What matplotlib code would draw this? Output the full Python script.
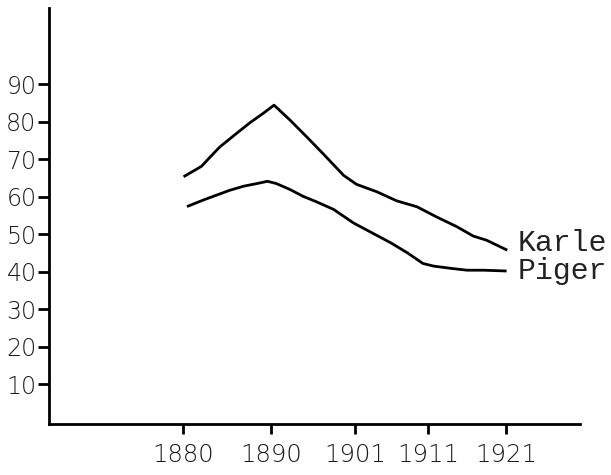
import numpy as np
import matplotlib
matplotlib.use("Agg")
import matplotlib.pyplot as plt

# data (year, per cent)
karle_years = [1880.2, 1882.1, 1883.3, 1884.2, 1886.1, 1887.6, 1889.1, 1890.4,
               1892.5, 1894.7, 1896.8, 1899.5, 1901.2, 1904.0, 1906.7, 1909.5,
               1912.1, 1914.7, 1916.8, 1918.5, 1921.0]
karle_vals = [65.5, 68.1, 71.1, 73.3, 76.9, 79.7, 82.2, 84.4,
              80.4, 75.9, 71.5, 65.7, 63.3, 61.3, 58.9, 57.3,
              54.6, 52.0, 49.5, 48.4, 45.9]

piger_years = [1880.6, 1882.3, 1883.8, 1885.3, 1886.9, 1888.4, 1889.6, 1890.7,
               1892.5, 1894.2, 1896.0, 1898.2, 1900.8, 1903.1, 1905.9, 1908.2,
               1910.3, 1911.7, 1913.9, 1916.0, 1918.1, 1920.9]
piger_vals = [57.5, 59.1, 60.4, 61.7, 62.8, 63.5, 64.1, 63.5,
              61.9, 60.1, 58.6, 56.6, 53.0, 50.6, 47.7, 45.0,
              42.2, 41.5, 40.9, 40.4, 40.4, 40.2]

year_ticks = [1880, 1890, 1901, 1911, 1921]
value_ticks = [10, 20, 30, 40, 50, 60, 70, 80, 90]

# the hand drawn year axis is not evenly spaced: piecewise scale
anchor_years = [1864.8, 1880, 1890, 1901, 1911, 1921, 1930.5]
anchor_pos = [49, 183, 271, 355, 428, 506, 580]

def fwd(x):
    return np.interp(x, anchor_years, anchor_pos, left=np.nan, right=np.nan)

def inv(x):
    return np.interp(x, anchor_pos, anchor_years, left=np.nan, right=np.nan)

fig = plt.figure(figsize=(6.11, 4.75), dpi=100)
ax = fig.add_axes([49/611, 51/475, 531/611, 416/475])

ax.plot(karle_years, karle_vals, color="black", lw=2.0, solid_joinstyle="round")
ax.plot(piger_years, piger_vals, color="black", lw=2.0, solid_joinstyle="round")

ax.set_xscale("function", functions=(fwd, inv))
ax.set_xlim(1864.8, 1930.5)
ax.set_ylim(-0.6, 110.3)

ax.spines["top"].set_visible(False)
ax.spines["right"].set_visible(False)
ax.spines["left"].set_linewidth(2)
ax.spines["bottom"].set_linewidth(2)

ax.set_xticks(year_ticks)
ax.set_yticks(value_ticks)
ax.set_xticklabels([str(y) for y in year_ticks], fontsize=17.5, fontweight=250,
                   color="#1a1a1a")
ax.set_yticklabels([str(v) for v in value_ticks], fontsize=17, fontweight=250,
                   color="#1a1a1a")
ax.xaxis.set_minor_locator(matplotlib.ticker.NullLocator())
ax.tick_params(axis="x", length=7, width=2, pad=7)
ax.tick_params(axis="y", length=8, width=2, pad=1)

ax.text(1922.5, 47.6, "Karle", family="Liberation Mono", fontsize=21.5,
        va="center", ha="left", color="#222222", clip_on=False)
ax.text(1922.5, 40.1, "Piger", family="Liberation Mono", fontsize=21.5,
        va="center", ha="left", color="#222222", clip_on=False)

fig.savefig("out.png", dpi=100)
